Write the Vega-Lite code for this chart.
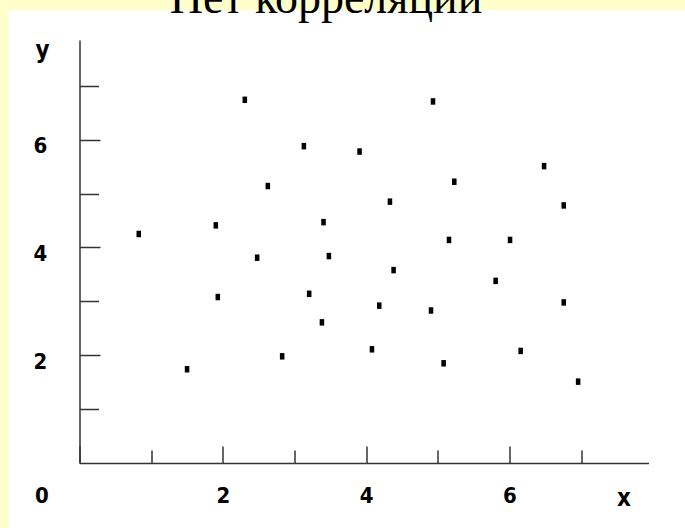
{
  "$schema": "https://vega.github.io/schema/vega-lite/v6.json",
  "width": 569,
  "height": 423,
  "autosize": {"type": "none"},
  "padding": {"left": 79.5, "top": 40, "right": 36.5, "bottom": 65},
  "background": "#FFFFCC",
  "title": {
    "text": "Нет корреляции",
    "font": "Liberation Serif",
    "fontSize": 46,
    "fontWeight": "normal",
    "color": "black",
    "anchor": "middle",
    "frame": "group",
    "baseline": "alphabetic",
    "offset": -49,
    "dx": -38,
    "zindex": 2
  },
  "config": {
    "view": {"stroke": null},
    "axis": {
      "grid": false,
      "domainColor": "#333333",
      "domainWidth": 1.5,
      "tickColor": "#333333",
      "tickWidth": 1.5,
      "labelFont": "DejaVu Sans Condensed",
      "labelFontSize": 22,
      "labelFontWeight": "bold",
      "labelColor": "black",
      "labelFlush": false,
      "labelOverlap": false,
      "titleFont": "DejaVu Sans Condensed",
      "titleFontSize": 24,
      "titleFontWeight": "bold",
      "titleColor": "black"
    }
  },
  "layer": [
    {
      "data": {"values": [{"x0": -0.99, "x1": 9.0, "y0": -1.5, "y1": 8.4}]},
      "mark": {"type": "rect", "color": "white", "opacity": 1},
      "encoding": {
        "x": {"field": "x0", "type": "quantitative", "scale": {"domain": [0, 7.94], "nice": false, "zero": false}, "title": "x", "axis": {"zindex": 1}},
        "x2": {"field": "x1"},
        "y": {"field": "y0", "type": "quantitative", "scale": {"domain": [0, 7.85], "nice": false, "zero": false}, "title": "y", "axis": {"zindex": 1}},
        "y2": {"field": "y1"}
      }
    },
    {
      "data": {"values": [
        {"x": 0.827, "y": 4.25},
        {"x": 1.501, "y": 1.74},
        {"x": 1.902, "y": 4.41},
        {"x": 1.930, "y": 3.08},
        {"x": 2.307, "y": 6.74},
        {"x": 2.479, "y": 3.81},
        {"x": 2.628, "y": 5.14},
        {"x": 2.828, "y": 1.98},
        {"x": 3.131, "y": 5.88},
        {"x": 3.205, "y": 3.14},
        {"x": 3.405, "y": 4.47},
        {"x": 3.383, "y": 2.61},
        {"x": 3.480, "y": 3.84},
        {"x": 3.908, "y": 5.78},
        {"x": 4.081, "y": 2.11},
        {"x": 4.183, "y": 2.92},
        {"x": 4.332, "y": 4.85},
        {"x": 4.383, "y": 3.58},
        {"x": 4.933, "y": 6.71},
        {"x": 4.905, "y": 2.83},
        {"x": 5.230, "y": 5.22},
        {"x": 5.156, "y": 4.14},
        {"x": 5.081, "y": 1.85},
        {"x": 5.807, "y": 3.38},
        {"x": 6.008, "y": 4.14},
        {"x": 6.156, "y": 2.08},
        {"x": 6.483, "y": 5.51},
        {"x": 6.757, "y": 4.78},
        {"x": 6.757, "y": 2.98},
        {"x": 6.958, "y": 1.51}
      ]},
      "mark": {"type": "point", "shape": "M-0.7,-1L0.7,-1L0.7,1L-0.7,1Z", "filled": true, "color": "black", "opacity": 1, "size": 42},
      "encoding": {
        "x": {
          "field": "x", "type": "quantitative",
          "scale": {"domain": [0, 7.94], "nice": false, "zero": false},
          "title": "x",
          "axis": {
            "zindex": 1,
            "values": [0, 1, 2, 3, 4, 5, 6, 7],
            "tickSize": {"condition": {"test": "datum.value % 2 === 0", "value": -17}, "value": -13},
            "labelExpr": "datum.value % 2 === 0 ? format(datum.value, 'd') : ''",
            "labelOffset": {"condition": {"test": "datum.value === 0", "value": -38}, "value": 0},
            "labelBaseline": "middle",
            "labelPadding": 49,
            "titleX": 544,
            "titleY": 35,
            "titleBaseline": "middle",
            "titleAlign": "center"
          }
        },
        "y": {
          "field": "y", "type": "quantitative",
          "scale": {"domain": [0, 7.85], "nice": false, "zero": false},
          "title": "y",
          "axis": {
            "zindex": 1,
            "values": [1, 2, 3, 4, 5, 6, 7],
            "tickSize": {"condition": {"test": "datum.value % 2 === 0", "value": -20.5}, "value": -19},
            "labelExpr": "datum.value % 2 === 0 ? format(datum.value, 'd') : ''",
            "labelAlign": "center",
            "labelBaseline": "middle",
            "labelOffset": 6,
            "labelPadding": 60,
            "titleAngle": 0,
            "titleX": -37.5,
            "titleY": 10,
            "titleBaseline": "middle",
            "titleAlign": "center"
          }
        }
      }
    }
  ]
}
